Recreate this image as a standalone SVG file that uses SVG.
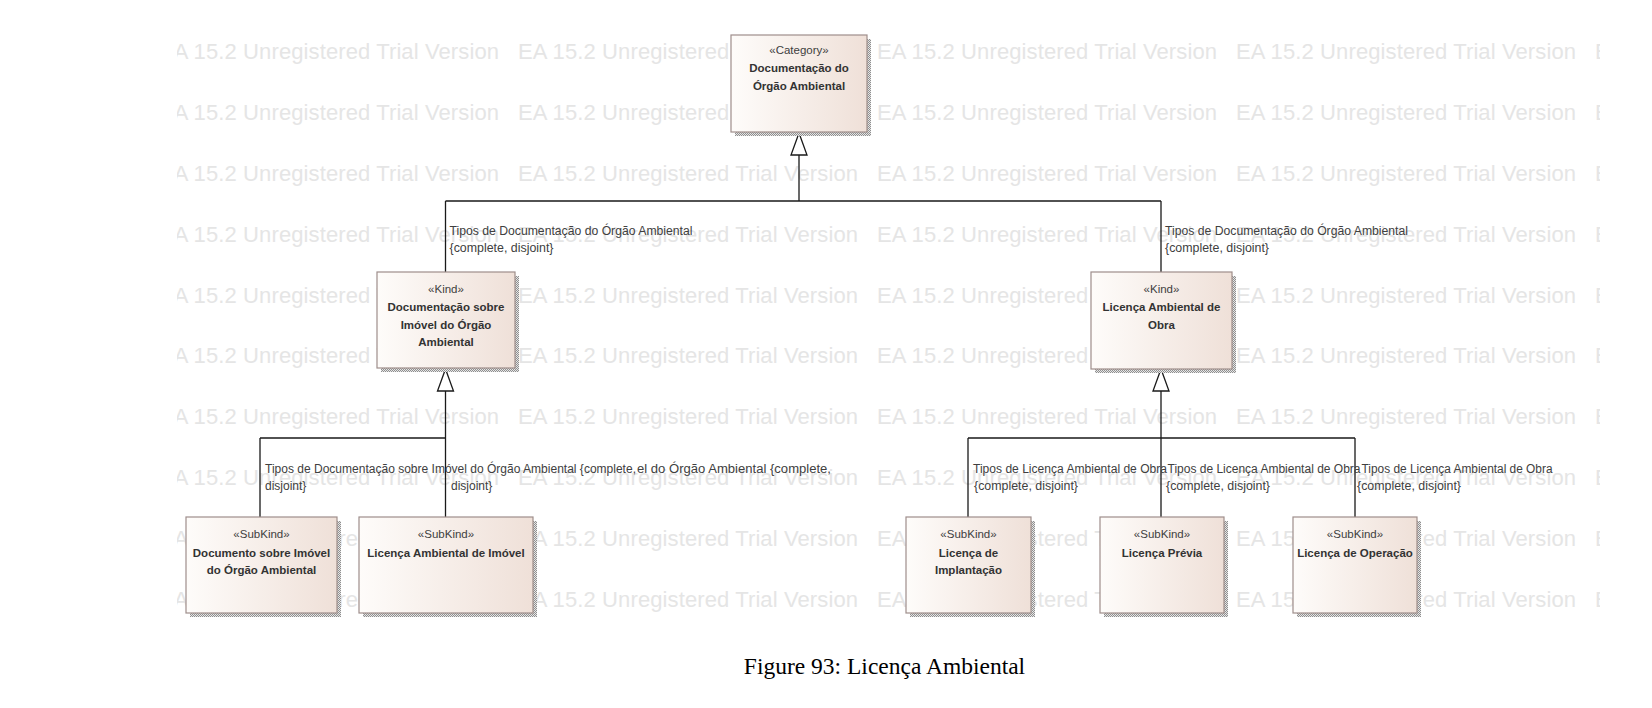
<svg xmlns="http://www.w3.org/2000/svg" width="1652" height="708" viewBox="0 0 1652 708">
<style>
.wm{font-family:"Liberation Sans",Arial,sans-serif;font-size:22px;fill:#e5e5e5}
.box{fill:url(#g);stroke:#9e8e8b;stroke-width:1.2}
.sh{fill:url(#dots)}
.st{font-family:"Liberation Sans",Arial,sans-serif;font-size:11.5px;fill:#404040;text-anchor:middle}
.nm{font-family:"Liberation Sans",Arial,sans-serif;font-size:11.5px;font-weight:bold;fill:#333;text-anchor:middle}
.lb{font-family:"Liberation Sans",Arial,sans-serif;font-size:12px;fill:#404040}
.ln{fill:none;stroke:#1a1a1a;stroke-width:1.3}
.tri{fill:#fff;stroke:#1a1a1a;stroke-width:1.3}
.cap{font-family:"Liberation Serif","Times New Roman",serif;font-size:23.5px;fill:#000;text-anchor:middle}
</style>
<defs>
<linearGradient id="g" x1="0" y1="0" x2="1" y2="0">
<stop offset="0" stop-color="#fefcfa"/>
<stop offset="1" stop-color="#efe0d8"/>
</linearGradient>
<pattern id="dots" width="2" height="2" patternUnits="userSpaceOnUse">
<rect width="2" height="2" fill="#e6e6e6"/>
<rect width="1" height="1" fill="#8f8f8f"/>
<rect x="1" y="1" width="1" height="1" fill="#8f8f8f"/>
</pattern>
<clipPath id="wmclip"><rect x="177" y="30" width="1423" height="590"/></clipPath>
</defs>
<rect width="1652" height="708" fill="#fff"/>
<g id="watermark" clip-path="url(#wmclip)">
<text class="wm" x="159" y="59.3" textLength="340">EA 15.2 Unregistered Trial Version</text>
<text class="wm" x="518" y="59.3" textLength="340">EA 15.2 Unregistered Trial Version</text>
<text class="wm" x="877" y="59.3" textLength="340">EA 15.2 Unregistered Trial Version</text>
<text class="wm" x="1236" y="59.3" textLength="340">EA 15.2 Unregistered Trial Version</text>
<text class="wm" x="1595" y="59.3" textLength="340">EA 15.2 Unregistered Trial Version</text>
<text class="wm" x="159" y="120.1" textLength="340">EA 15.2 Unregistered Trial Version</text>
<text class="wm" x="518" y="120.1" textLength="340">EA 15.2 Unregistered Trial Version</text>
<text class="wm" x="877" y="120.1" textLength="340">EA 15.2 Unregistered Trial Version</text>
<text class="wm" x="1236" y="120.1" textLength="340">EA 15.2 Unregistered Trial Version</text>
<text class="wm" x="1595" y="120.1" textLength="340">EA 15.2 Unregistered Trial Version</text>
<text class="wm" x="159" y="180.9" textLength="340">EA 15.2 Unregistered Trial Version</text>
<text class="wm" x="518" y="180.9" textLength="340">EA 15.2 Unregistered Trial Version</text>
<text class="wm" x="877" y="180.9" textLength="340">EA 15.2 Unregistered Trial Version</text>
<text class="wm" x="1236" y="180.9" textLength="340">EA 15.2 Unregistered Trial Version</text>
<text class="wm" x="1595" y="180.9" textLength="340">EA 15.2 Unregistered Trial Version</text>
<text class="wm" x="159" y="241.7" textLength="340">EA 15.2 Unregistered Trial Version</text>
<text class="wm" x="518" y="241.7" textLength="340">EA 15.2 Unregistered Trial Version</text>
<text class="wm" x="877" y="241.7" textLength="340">EA 15.2 Unregistered Trial Version</text>
<text class="wm" x="1236" y="241.7" textLength="340">EA 15.2 Unregistered Trial Version</text>
<text class="wm" x="1595" y="241.7" textLength="340">EA 15.2 Unregistered Trial Version</text>
<text class="wm" x="159" y="302.5" textLength="340">EA 15.2 Unregistered Trial Version</text>
<text class="wm" x="518" y="302.5" textLength="340">EA 15.2 Unregistered Trial Version</text>
<text class="wm" x="877" y="302.5" textLength="340">EA 15.2 Unregistered Trial Version</text>
<text class="wm" x="1236" y="302.5" textLength="340">EA 15.2 Unregistered Trial Version</text>
<text class="wm" x="1595" y="302.5" textLength="340">EA 15.2 Unregistered Trial Version</text>
<text class="wm" x="159" y="363.3" textLength="340">EA 15.2 Unregistered Trial Version</text>
<text class="wm" x="518" y="363.3" textLength="340">EA 15.2 Unregistered Trial Version</text>
<text class="wm" x="877" y="363.3" textLength="340">EA 15.2 Unregistered Trial Version</text>
<text class="wm" x="1236" y="363.3" textLength="340">EA 15.2 Unregistered Trial Version</text>
<text class="wm" x="1595" y="363.3" textLength="340">EA 15.2 Unregistered Trial Version</text>
<text class="wm" x="159" y="424.1" textLength="340">EA 15.2 Unregistered Trial Version</text>
<text class="wm" x="518" y="424.1" textLength="340">EA 15.2 Unregistered Trial Version</text>
<text class="wm" x="877" y="424.1" textLength="340">EA 15.2 Unregistered Trial Version</text>
<text class="wm" x="1236" y="424.1" textLength="340">EA 15.2 Unregistered Trial Version</text>
<text class="wm" x="1595" y="424.1" textLength="340">EA 15.2 Unregistered Trial Version</text>
<text class="wm" x="159" y="484.9" textLength="340">EA 15.2 Unregistered Trial Version</text>
<text class="wm" x="518" y="484.9" textLength="340">EA 15.2 Unregistered Trial Version</text>
<text class="wm" x="877" y="484.9" textLength="340">EA 15.2 Unregistered Trial Version</text>
<text class="wm" x="1236" y="484.9" textLength="340">EA 15.2 Unregistered Trial Version</text>
<text class="wm" x="1595" y="484.9" textLength="340">EA 15.2 Unregistered Trial Version</text>
<text class="wm" x="159" y="545.7" textLength="340">EA 15.2 Unregistered Trial Version</text>
<text class="wm" x="518" y="545.7" textLength="340">EA 15.2 Unregistered Trial Version</text>
<text class="wm" x="877" y="545.7" textLength="340">EA 15.2 Unregistered Trial Version</text>
<text class="wm" x="1236" y="545.7" textLength="340">EA 15.2 Unregistered Trial Version</text>
<text class="wm" x="1595" y="545.7" textLength="340">EA 15.2 Unregistered Trial Version</text>
<text class="wm" x="159" y="606.5" textLength="340">EA 15.2 Unregistered Trial Version</text>
<text class="wm" x="518" y="606.5" textLength="340">EA 15.2 Unregistered Trial Version</text>
<text class="wm" x="877" y="606.5" textLength="340">EA 15.2 Unregistered Trial Version</text>
<text class="wm" x="1236" y="606.5" textLength="340">EA 15.2 Unregistered Trial Version</text>
<text class="wm" x="1595" y="606.5" textLength="340">EA 15.2 Unregistered Trial Version</text>
</g>

<g id="connectors">
<polygon class="tri" points="799,133 791,155 807,155"/>
<path class="ln" d="M799,155 V201 M445.5,201 H1161 M445.5,201 V272 M1161,201 V272"/>
<polygon class="tri" points="445.5,369 437.5,391 453.5,391"/>
<path class="ln" d="M445.5,391 V517 M260,438 H445.5 M260,438 V517"/>
<polygon class="tri" points="1161,369 1153,391 1169,391"/>
<path class="ln" d="M1161,391 V517 M968,438 H1355 M968,438 V517 M1355,438 V517"/>
<text class="lb" x="449.5" y="235" textLength="243" lengthAdjust="spacingAndGlyphs">Tipos de Documentação do Órgão Ambiental</text>
<text class="lb" x="449.5" y="252" textLength="104" lengthAdjust="spacingAndGlyphs">{complete, disjoint}</text>
<text class="lb" x="1165" y="235" textLength="243" lengthAdjust="spacingAndGlyphs">Tipos de Documentação do Órgão Ambiental</text>
<text class="lb" x="1165" y="252" textLength="104" lengthAdjust="spacingAndGlyphs">{complete, disjoint}</text>
<text class="lb" x="265" y="473" textLength="371" lengthAdjust="spacingAndGlyphs">Tipos de Documentação sobre Imóvel do Órgão Ambiental {complete,</text>
<text class="lb" x="265" y="490">disjoint}</text>
<text class="lb" x="637" y="473" textLength="194" lengthAdjust="spacingAndGlyphs">el do Órgão Ambiental {complete,</text>
<text class="lb" x="451" y="490">disjoint}</text>
<text class="lb" x="973" y="473" textLength="194" lengthAdjust="spacingAndGlyphs">Tipos de Licença Ambiental de Obra</text>
<text class="lb" x="974" y="490" textLength="104" lengthAdjust="spacingAndGlyphs">{complete, disjoint}</text>
<text class="lb" x="1167.5" y="473" textLength="193" lengthAdjust="spacingAndGlyphs">Tipos de Licença Ambiental de Obra</text>
<text class="lb" x="1166" y="490" textLength="104" lengthAdjust="spacingAndGlyphs">{complete, disjoint}</text>
<text class="lb" x="1361.5" y="473" textLength="191" lengthAdjust="spacingAndGlyphs">Tipos de Licença Ambiental de Obra</text>
<text class="lb" x="1357" y="490" textLength="104" lengthAdjust="spacingAndGlyphs">{complete, disjoint}</text>
</g>

<g id="node-documentacao-orgao">
<rect class="sh" x="735" y="39" width="136" height="97"/>
<rect class="box" x="731" y="35" width="136" height="97"/>
<text class="st" x="799" y="54">«Category»</text>
<text class="nm" x="799" y="72">Documentação do</text>
<text class="nm" x="799" y="89.5">Órgão Ambiental</text>
</g>

<g id="node-documentacao-imovel">
<rect class="sh" x="381" y="276" width="138" height="96"/>
<rect class="box" x="377" y="272" width="138" height="96"/>
<text class="st" x="446" y="293">«Kind»</text>
<text class="nm" x="446" y="311">Documentação sobre</text>
<text class="nm" x="446" y="328.5">Imóvel do Órgão</text>
<text class="nm" x="446" y="346">Ambiental</text>
</g>

<g id="node-licenca-obra">
<rect class="sh" x="1095" y="276" width="141" height="97"/>
<rect class="box" x="1091" y="272" width="141" height="97"/>
<text class="st" x="1161.5" y="293">«Kind»</text>
<text class="nm" x="1161.5" y="311">Licença Ambiental de</text>
<text class="nm" x="1161.5" y="328.5">Obra</text>
</g>

<g id="node-documento-imovel">
<rect class="sh" x="190" y="521" width="151" height="96"/>
<rect class="box" x="186" y="517" width="151" height="96"/>
<text class="st" x="261.5" y="538">«SubKind»</text>
<text class="nm" x="261.5" y="556.5">Documento sobre Imóvel</text>
<text class="nm" x="261.5" y="574">do Órgão Ambiental</text>
</g>

<g id="node-licenca-imovel">
<rect class="sh" x="363" y="521" width="174" height="96"/>
<rect class="box" x="359" y="517" width="174" height="96"/>
<text class="st" x="446" y="538">«SubKind»</text>
<text class="nm" x="446" y="556.5">Licença Ambiental de Imóvel</text>
</g>

<g id="node-licenca-implantacao">
<rect class="sh" x="910" y="521" width="125" height="96"/>
<rect class="box" x="906" y="517" width="125" height="96"/>
<text class="st" x="968.5" y="538">«SubKind»</text>
<text class="nm" x="968.5" y="556.5">Licença de</text>
<text class="nm" x="968.5" y="574">Implantação</text>
</g>

<g id="node-licenca-previa">
<rect class="sh" x="1104" y="521" width="124" height="96"/>
<rect class="box" x="1100" y="517" width="124" height="96"/>
<text class="st" x="1162" y="538">«SubKind»</text>
<text class="nm" x="1162" y="556.5">Licença Prévia</text>
</g>

<g id="node-licenca-operacao">
<rect class="sh" x="1297" y="521" width="124" height="96"/>
<rect class="box" x="1293" y="517" width="124" height="96"/>
<text class="st" x="1355" y="538">«SubKind»</text>
<text class="nm" x="1355" y="556.5">Licença de Operação</text>
</g>

<text class="cap" x="884.5" y="674">Figure 93: Licença Ambiental</text>
</svg>
